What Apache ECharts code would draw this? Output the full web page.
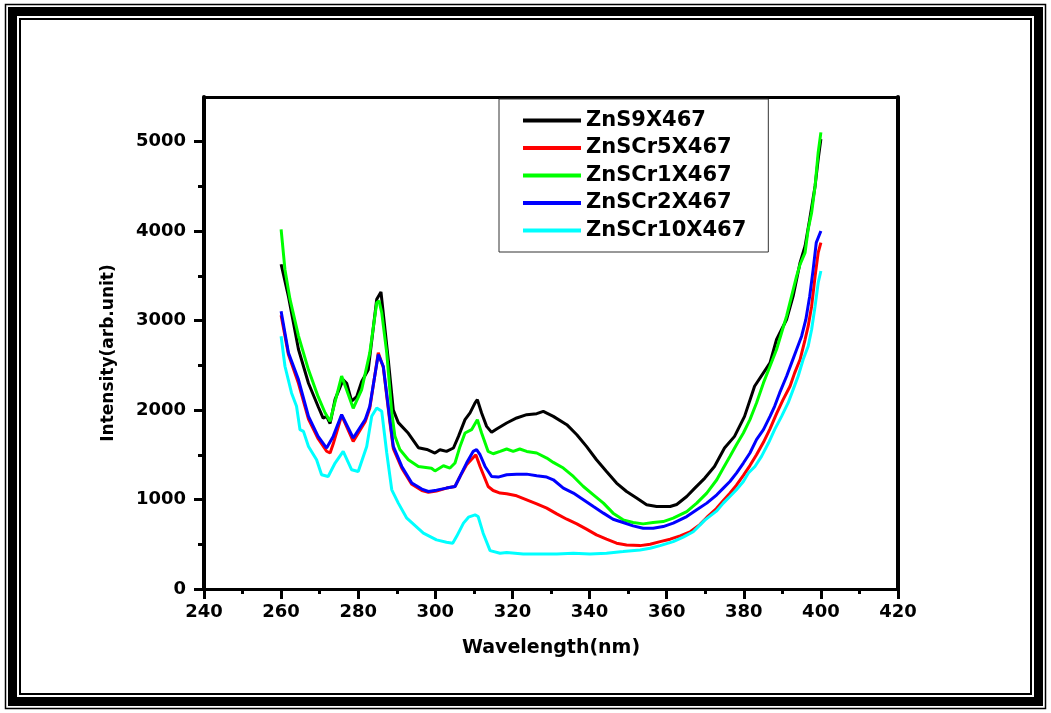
<!DOCTYPE html>
<html><head><meta charset="utf-8">
<script src="https://cdn.jsdelivr.net/npm/echarts@6/dist/echarts.min.js"></script>
<style>html,body{margin:0;padding:0;background:#fff}#c{width:1051px;height:713px}</style>
</head><body><div id="c"></div><script>
// ---- data ----
const seriesNames = ['ZnS9X467', 'ZnSCr5X467', 'ZnSCr1X467', 'ZnSCr2X467', 'ZnSCr10X467'];
const seriesColors = ['#000000', '#ff0000', '#00ff00', '#0000ff', '#00ffff'];

const blackWl = [260, 261.9, 264.5, 267.1, 269.6, 270.9, 271.8, 272.7, 274.0, 276.1, 277.0, 278.3, 279.6, 280.9, 282.6, 284.8, 285.9, 287.8, 289.1, 290.4, 293.0, 295.6, 297.8, 299.9, 301.2, 302.9, 304.7, 306.0, 307.7, 309.0, 310.3, 310.9, 312.0, 313.3, 314.6, 315.9, 318.5, 321.1, 323.7, 326.3, 328.0, 330.6, 334.1, 336.7, 339.2, 341.8, 344.4, 347.0, 349.6, 352.2, 354.8, 357.4, 360.9, 362.6, 365.2, 367.3, 369.9, 372.4, 375.0, 377.6, 380.2, 382.8, 386.8, 388.5, 391.1, 392.8, 394.6, 395.9, 397.1, 398.5, 399.3, 400];
const blackVal = [3630, 3270, 2680, 2300, 2040, 1910, 1930, 1850, 2120, 2340, 2300, 2100, 2150, 2320, 2450, 3240, 3320, 2560, 2000, 1860, 1740, 1580, 1560, 1520, 1557, 1538, 1576, 1706, 1893, 1968, 2080, 2117, 1968, 1818, 1751, 1788, 1856, 1912, 1949, 1960, 1986, 1930, 1837, 1725, 1594, 1445, 1314, 1184, 1090, 1016, 941, 922, 922, 945, 1034, 1128, 1240, 1370, 1576, 1706, 1930, 2266, 2528, 2789, 3013, 3274, 3648, 3834, 4133, 4506, 4805, 5029];

const redWl = [260, 261.9, 264.5, 267.1, 269.6, 271.8, 272.7, 273.5, 275.7, 278.7, 281.8, 283.0, 285.2, 286.5, 288.2, 289.1, 291.3, 293.9, 296.5, 298.2, 300.3, 302.9, 305.1, 306.4, 308.1, 310.5, 311.6, 313.7, 315.0, 316.8, 318.5, 321.1, 323.7, 326.3, 328.9, 331.5, 334.1, 336.7, 339.2, 341.8, 344.4, 347.0, 349.6, 353.1, 355.7, 358.3, 360.9, 363.5, 366.2, 368.6, 370.4, 372.9, 374.7, 376.4, 378.1, 379.9, 381.6, 383.3, 385.1, 386.8, 388.5, 390.2, 392.0, 393.2, 394.6, 395.9, 396.7, 397.6, 398.5, 399.3, 400];
const redVal = [3060, 2620, 2300, 1900, 1680, 1540, 1520, 1620, 1940, 1650, 1870, 2020, 2640, 2480, 1870, 1570, 1350, 1170, 1100, 1080, 1095, 1128, 1146, 1258, 1389, 1501, 1370, 1146, 1101, 1072, 1064, 1042, 997, 952, 904, 840, 780, 728, 669, 605, 557, 512, 493, 485, 500, 530, 557, 594, 642, 720, 800, 900, 990, 1070, 1160, 1270, 1380, 1500, 1640, 1790, 1960, 2117, 2266, 2416, 2565, 2789, 2938, 3162, 3498, 3760, 3872];

const greenWl = [260, 261.0, 262.3, 264.5, 267.1, 269.6, 271.4, 272.7, 275.7, 278.7, 280.9, 283.0, 284.8, 285.4, 286.1, 287.4, 288.7, 289.5, 290.8, 293.0, 295.6, 299.0, 299.9, 302.1, 303.8, 305.1, 306.4, 307.7, 309.4, 310.9, 312.0, 313.7, 315.0, 316.8, 318.5, 320.2, 321.9, 323.7, 326.3, 328.9, 330.6, 333.2, 335.8, 338.4, 341.0, 343.6, 346.1, 348.7, 351.3, 353.9, 356.5, 359.1, 361.7, 365.2, 367.8, 370.4, 373.0, 374.7, 376.4, 378.1, 379.9, 381.6, 383.3, 385.1, 386.8, 388.5, 389.8, 391.1, 392.4, 393.7, 394.6, 395.9, 396.7, 397.6, 398.5, 399.3, 400];
const greenVal = [4020, 3570, 3240, 2830, 2450, 2150, 1970, 1875, 2380, 2020, 2230, 2640, 3200, 3220, 3090, 2640, 1970, 1710, 1560, 1445, 1370, 1350, 1320, 1378, 1352, 1408, 1594, 1744, 1781, 1893, 1744, 1538, 1512, 1538, 1565, 1538, 1565, 1538, 1520, 1464, 1415, 1352, 1258, 1146, 1053, 960, 848, 773, 743, 728, 743, 754, 792, 866, 960, 1072, 1221, 1352, 1482, 1613, 1744, 1893, 2080, 2304, 2490, 2677, 2864, 3050, 3274, 3498, 3629, 3760, 4021, 4208, 4506, 4880, 5104];

const blueWl = [260, 261.9, 264.5, 267.1, 269.6, 271.8, 273.5, 275.7, 278.7, 281.8, 283.0, 285.2, 286.5, 288.2, 289.1, 291.3, 293.9, 296.5, 298.2, 300.3, 302.9, 305.1, 306.4, 308.1, 309.8, 310.7, 311.6, 312.9, 314.6, 316.3, 318.5, 321.1, 323.7, 326.3, 328.9, 330.6, 333.2, 335.8, 338.4, 341.0, 343.6, 346.1, 348.7, 351.3, 353.9, 356.5, 359.1, 361.7, 365.2, 367.8, 370.4, 373.0, 374.7, 376.4, 378.1, 379.9, 381.6, 383.3, 385.1, 386.8, 388.0, 389.3, 391.1, 392.4, 393.7, 395.0, 396.1, 397.1, 398.0, 398.8, 400];
const blueVal = [3106, 2640, 2341, 1930, 1706, 1576, 1706, 1949, 1688, 1893, 2042, 2621, 2490, 1893, 1594, 1370, 1184, 1117, 1090, 1105, 1128, 1146, 1258, 1408, 1538, 1557, 1501, 1370, 1258, 1251, 1277, 1284, 1284, 1266, 1251, 1221, 1128, 1072, 997, 922, 848, 780, 743, 706, 680, 680, 698, 736, 810, 885, 960, 1053, 1128, 1202, 1296, 1408, 1520, 1669, 1781, 1930, 2042, 2192, 2378, 2528, 2677, 2826, 3013, 3274, 3573, 3872, 4002];

const cyanWl = [260, 261.0, 262.7, 264.0, 264.9, 265.8, 267.1, 269.2, 270.5, 272.2, 274.0, 276.1, 278.3, 280.0, 282.2, 283.5, 284.8, 286.1, 287.4, 288.7, 290.4, 292.6, 296.9, 300.3, 302.9, 304.5, 305.5, 307.3, 308.6, 310.3, 311.1, 312.4, 314.2, 316.8, 318.5, 322.8, 327.1, 331.5, 335.8, 340.1, 344.4, 348.7, 353.1, 355.7, 358.3, 361.7, 364.3, 366.9, 369.9, 372.9, 374.7, 376.4, 378.1, 379.9, 381.2, 382.9, 384.6, 386.4, 388.0, 389.8, 391.5, 392.8, 394.1, 395.4, 396.7, 397.6, 398.5, 399.3, 400];
const cyanVal = [2826, 2490, 2192, 2042, 1781, 1762, 1594, 1445, 1277, 1258, 1408, 1538, 1333, 1314, 1594, 1930, 2024, 1986, 1520, 1109, 960, 792, 624, 549, 523, 512, 586, 736, 803, 829, 810, 624, 429, 400, 407, 392, 392, 392, 400, 392, 400, 418, 437, 456, 485, 530, 580, 640, 770, 870, 960, 1034, 1109, 1202, 1296, 1370, 1482, 1632, 1781, 1930, 2080, 2229, 2378, 2565, 2714, 2901, 3162, 3424, 3555];

const yMajorTicks = [0, 1000, 2000, 3000, 4000, 5000];
const yMinorTicks = [500, 1500, 2500, 3500, 4500];

const allWl = [blackWl, redWl, greenWl, blueWl, cyanWl];
const allVal = [blackVal, redVal, greenVal, blueVal, cyanVal];

// ---- chart ----
const FONT = 'DejaVu Sans';
const chart = echarts.init(document.getElementById('c'), null, {renderer: 'canvas'});
const W = 1051, H = 713;

const series = seriesNames.map((name, k) => ({
  name: name,
  type: 'line',
  xAxisIndex: 0,
  yAxisIndex: 0,
  showSymbol: false,
  symbol: 'none',
  color: seriesColors[k],
  lineStyle: {width: 3, color: seriesColors[k]},
  data: allWl[k].map((w, i) => [w, allVal[k][i]]),
  animation: false
}));

chart.setOption({
  backgroundColor: '#ffffff',
  animation: false,
  graphic: [
    {type: 'rect', silent: true, shape: {x: 5.5, y: 4.5, width: W - 11, height: H - 9}, style: {fill: 'none', stroke: '#000', lineWidth: 1.5}},
    {type: 'rect', silent: true, shape: {x: 12.5, y: 11.5, width: W - 25, height: H - 23}, style: {fill: 'none', stroke: '#000', lineWidth: 9}},
    {type: 'rect', silent: true, shape: {x: 20, y: 19, width: W - 40, height: H - 38}, style: {fill: 'none', stroke: '#000', lineWidth: 2}}
  ],
  grid: {left: 204, right: 153, top: 97, bottom: 124, containLabel: false, show: false},
  legend: {
    orient: 'vertical',
    left: 499, top: 99,
    padding: [11, 22, 11, 24],
    borderColor: '#333', borderWidth: 1,
    backgroundColor: '#fff',
    icon: 'rect',
    itemWidth: 58, itemHeight: 4, itemGap: 6.5,
    textStyle: {fontFamily: FONT, fontWeight: 'bold', fontSize: 21, lineHeight: 21, color: '#000'},
    data: seriesNames
  },
  xAxis: [
    {
      type: 'value', position: 'bottom', min: 240, max: 420, interval: 20,
      name: 'Wavelength(nm)', nameLocation: 'middle', nameGap: 50,
      nameTextStyle: {fontFamily: FONT, fontWeight: 'bold', fontSize: 19, color: '#000'},
      axisLine: {show: true, onZero: false, lineStyle: {color: '#000', width: 3}},
      axisTick: {show: true, inside: false, length: 10, lineStyle: {color: '#000', width: 3}},
      minorTick: {show: true, splitNumber: 2, length: 5, lineStyle: {color: '#000', width: 3}},
      axisLabel: {margin: 14, formatter: v => String(v), fontFamily: FONT, fontWeight: 'bold', fontSize: 18, color: '#000'},
      splitLine: {show: false}
    },
    {
      type: 'value', position: 'top', min: 240, max: 420,
      axisLine: {show: true, onZero: false, lineStyle: {color: '#000', width: 3}},
      axisTick: {show: false}, axisLabel: {show: false}, splitLine: {show: false}
    }
  ],
  yAxis: [
    {
      type: 'value', position: 'left', min: 0, max: 5500, interval: 500,
      name: 'Intensity(arb.unit)', nameLocation: 'middle', nameGap: 87,
      nameTextStyle: {fontFamily: FONT, fontWeight: 'bold', fontSize: 17, color: '#000', padding: [0, 20, 0, 0]},
      axisLine: {show: true, onZero: false, lineStyle: {color: '#000', width: 4}},
      axisTick: {show: true, inside: false, length: 10, customValues: yMajorTicks, lineStyle: {color: '#000', width: 3}},
      axisLabel: {margin: 18, customValues: yMajorTicks, formatter: v => String(v), fontFamily: FONT, fontWeight: 'bold', fontSize: 18, color: '#000'},
      splitLine: {show: false}
    },
    {
      type: 'value', position: 'left', min: 0, max: 5500, interval: 500,
      axisLine: {show: false},
      axisTick: {show: true, inside: false, length: 6, customValues: yMinorTicks, lineStyle: {color: '#000', width: 3}},
      axisLabel: {show: false}, splitLine: {show: false}
    },
    {
      type: 'value', position: 'right', min: 0, max: 5500,
      axisLine: {show: true, onZero: false, lineStyle: {color: '#000', width: 4}},
      axisTick: {show: false}, axisLabel: {show: false}, splitLine: {show: false}
    }
  ],
  series: series
});
</script></body></html>
